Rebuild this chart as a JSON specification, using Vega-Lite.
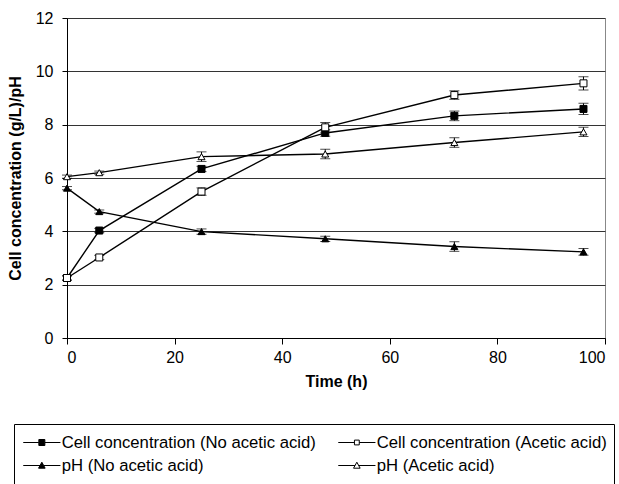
{
  "$schema": "https://vega.github.io/schema/vega-lite/v6.json",
  "width": 538,
  "height": 320,
  "autosize": "none",
  "padding": {"left": 67, "top": 18, "right": 14, "bottom": 146},
  "config": {
    "font": "Liberation Sans",
    "view": {"stroke": "#888", "strokeWidth": 1},
    "axis": {
      "labelFont": "Liberation Sans",
      "labelFontSize": 16,
      "labelColor": "#000",
      "titleFont": "Liberation Sans",
      "titleFontSize": 16,
      "titleFontWeight": "bold",
      "titleColor": "#000",
      "domainColor": "#000",
      "tickColor": "#000",
      "tickSize": 5
    }
  },
  "data": {
    "values": [
      {"series": "Cell concentration (No acetic acid)", "t": 0, "v": 2.25, "lo": 2.17, "hi": 2.33},
      {"series": "Cell concentration (No acetic acid)", "t": 6, "v": 4.03, "lo": 3.95, "hi": 4.11},
      {"series": "Cell concentration (No acetic acid)", "t": 25, "v": 6.34, "lo": 6.24, "hi": 6.44},
      {"series": "Cell concentration (No acetic acid)", "t": 48, "v": 7.69, "lo": 7.57, "hi": 7.81},
      {"series": "Cell concentration (No acetic acid)", "t": 72, "v": 8.33, "lo": 8.15, "hi": 8.51},
      {"series": "Cell concentration (No acetic acid)", "t": 96, "v": 8.59, "lo": 8.38, "hi": 8.8},
      {"series": "Cell concentration (Acetic acid)", "t": 0, "v": 2.25, "lo": 2.17, "hi": 2.33},
      {"series": "Cell concentration (Acetic acid)", "t": 6, "v": 3.02, "lo": 2.94, "hi": 3.1},
      {"series": "Cell concentration (Acetic acid)", "t": 25, "v": 5.49, "lo": 5.35, "hi": 5.63},
      {"series": "Cell concentration (Acetic acid)", "t": 48, "v": 7.9, "lo": 7.72, "hi": 8.08},
      {"series": "Cell concentration (Acetic acid)", "t": 72, "v": 9.11, "lo": 8.95, "hi": 9.27},
      {"series": "Cell concentration (Acetic acid)", "t": 96, "v": 9.55, "lo": 9.3, "hi": 9.8},
      {"series": "pH (No acetic acid)", "t": 0, "v": 5.62, "lo": 5.56, "hi": 5.68},
      {"series": "pH (No acetic acid)", "t": 6, "v": 4.74, "lo": 4.68, "hi": 4.8},
      {"series": "pH (No acetic acid)", "t": 25, "v": 3.99, "lo": 3.89, "hi": 4.09},
      {"series": "pH (No acetic acid)", "t": 48, "v": 3.72, "lo": 3.62, "hi": 3.82},
      {"series": "pH (No acetic acid)", "t": 72, "v": 3.43, "lo": 3.25, "hi": 3.61},
      {"series": "pH (No acetic acid)", "t": 96, "v": 3.23, "lo": 3.1, "hi": 3.36},
      {"series": "pH (Acetic acid)", "t": 0, "v": 6.05, "lo": 5.99, "hi": 6.11},
      {"series": "pH (Acetic acid)", "t": 6, "v": 6.2, "lo": 6.14, "hi": 6.26},
      {"series": "pH (Acetic acid)", "t": 25, "v": 6.8, "lo": 6.62, "hi": 6.98},
      {"series": "pH (Acetic acid)", "t": 48, "v": 6.9, "lo": 6.72, "hi": 7.08},
      {"series": "pH (Acetic acid)", "t": 72, "v": 7.33, "lo": 7.15, "hi": 7.51},
      {"series": "pH (Acetic acid)", "t": 96, "v": 7.73, "lo": 7.56, "hi": 7.9}
    ]
  },
  "encoding": {
    "x": {
      "field": "t",
      "type": "quantitative",
      "title": "Time (h)",
      "scale": {"domain": [0, 100], "nice": false, "zero": true},
      "axis": {"values": [0, 20, 40, 60, 80, 100], "grid": false, "labelPadding": 5, "titlePadding": 8, "tickSize": 6}
    }
  },
  "resolve": {"scale": {"shape": "independent", "fill": "independent"}, "legend": {"shape": "independent", "fill": "independent"}},
  "layer": [
    {
      "mark": {"type": "line", "color": "#000", "strokeWidth": 1.4},
      "encoding": {
        "y": {
          "field": "v",
          "type": "quantitative",
          "title": "Cell concentration (g/L)/pH",
          "scale": {"domain": [0, 12], "nice": false},
          "axis": {"values": [0, 2, 4, 6, 8, 10, 12], "grid": true, "gridColor": "#333", "gridWidth": 1, "labelPadding": 9, "titlePadding": 12}
        },
        "detail": {"field": "series"}
      }
    },
    {
      "mark": {"type": "rule", "color": "#000", "strokeWidth": 1},
      "encoding": {
        "y": {"field": "lo", "type": "quantitative"},
        "y2": {"field": "hi"}
      }
    },
    {
      "mark": {"type": "tick", "color": "#000", "size": 10, "thickness": 1, "orient": "horizontal"},
      "encoding": {"y": {"field": "lo", "type": "quantitative"}}
    },
    {
      "mark": {"type": "tick", "color": "#000", "size": 10, "thickness": 1, "orient": "horizontal"},
      "encoding": {"y": {"field": "hi", "type": "quantitative"}}
    },
    {
      "mark": {"type": "point", "filled": true, "stroke": "#000", "strokeWidth": 1, "size": 49, "opacity": 1},
      "encoding": {
        "y": {"field": "v", "type": "quantitative"},
        "shape": {
          "field": "series",
          "type": "nominal",
          "sort": null,
          "scale": {
            "domain": ["Cell concentration (No acetic acid)", "Cell concentration (Acetic acid)", "pH (No acetic acid)", "pH (Acetic acid)"],
            "range": ["square", "square", "triangle-up", "triangle-up"]
          },
          "legend": null
        },
        "fill": {
          "field": "series",
          "type": "nominal",
          "sort": null,
          "scale": {
            "domain": ["Cell concentration (No acetic acid)", "Cell concentration (Acetic acid)", "pH (No acetic acid)", "pH (Acetic acid)"],
            "range": ["#000", "#fff", "#000", "#fff"]
          },
          "legend": null
        }
      }
    },
    {
      "mark": {"type": "point", "filled": true, "stroke": "#000", "strokeWidth": 1, "size": 36, "opacity": 0},
      "encoding": {
        "y": {"field": "v", "type": "quantitative"},
        "shape": {
          "field": "series",
          "type": "nominal",
          "sort": null,
          "title": null,
          "scale": {
            "domain": ["Cell concentration (No acetic acid)", "Cell concentration (Acetic acid)", "pH (No acetic acid)", "pH (Acetic acid)"],
            "range": [
              "M-6.2,0H-1M1,0H6.2M-1,-1H1V1H-1Z",
              "M-6.2,0H-0.8M0.8,0H6.2M-0.8,-0.8H0.8V0.8H-0.8Z",
              "M-6.2,0H-0.6M0.6,0H6.2M0,-1.1L1.1,0.9H-1.1Z",
              "M-6.2,0H-0.6M0.6,0H6.2M0,-1.1L1.1,0.9H-1.1Z"
            ]
          },
          "legend": {
            "orient": "none",
            "legendX": -53,
            "legendY": 406,
            "columns": 2,
            "direction": "horizontal",
            "strokeColor": "#000",
            "padding": 7,
            "labelFont": "Liberation Sans",
            "labelFontSize": 16.7,
            "labelColor": "#000",
            "labelLimit": 400,
            "clipHeight": 23,
            "symbolSize": 36,
            "symbolOpacity": 1,
            "symbolStrokeWidth": 1,
            "symbolOffset": 12.5,
            "labelOffset": 11.5,
            "columnPadding": 20,
            "rowPadding": 0,
            "encode": {
              "symbols": {
                "stroke": {"value": "#000"},
                "strokeWidth": {"value": 1},
                "opacity": {"value": 1}
              }
            }
          }
        },
        "fill": {
          "field": "series",
          "type": "nominal",
          "sort": null,
          "title": null,
          "scale": {
            "domain": ["Cell concentration (No acetic acid)", "Cell concentration (Acetic acid)", "pH (No acetic acid)", "pH (Acetic acid)"],
            "range": ["#000", "#fff", "#000", "#fff"]
          },
          "legend": {
            "orient": "none",
            "legendX": -53,
            "legendY": 406
          }
        }
      }
    }
  ]
}
